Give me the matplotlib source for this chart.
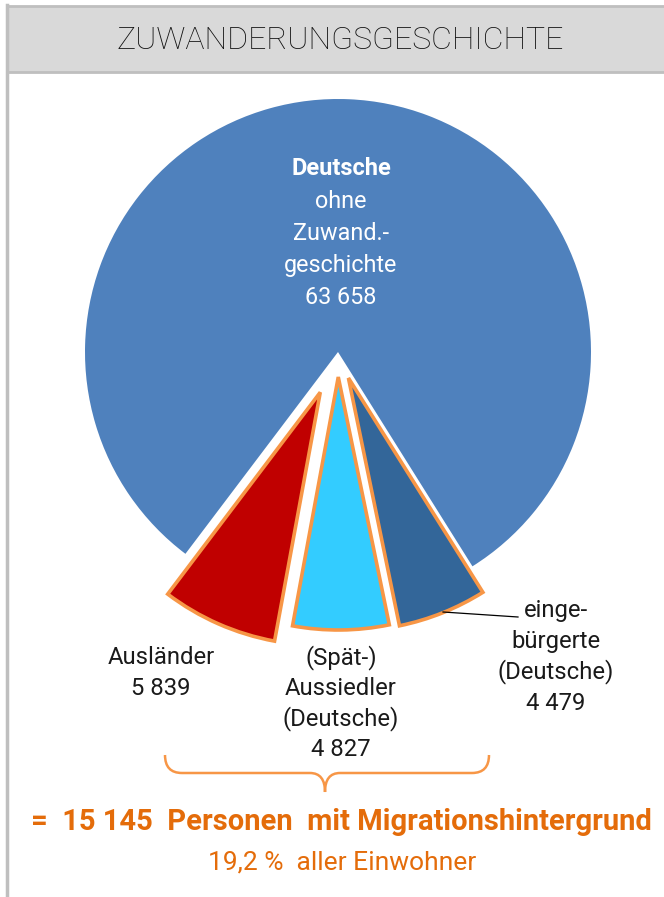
import matplotlib.pyplot as plt
from matplotlib.patches import Rectangle, PathPatch
from matplotlib.path import Path

# Daten
kategorien = ["Deutsche ohne Zuwand.-geschichte", "Ausländer", "(Spät-)Aussiedler", "eingebürgerte"]
werte = [63658, 5839, 4827, 4479]
farben = ["#4F81BD", "#C00000", "#33CCFF", "#336699"]
migration_gesamt = 15145
anteil = "19,2"

W, H = 664, 897
plt.rcParams['font.family'] = ['Roboto', 'DejaVu Sans']

fig = plt.figure(figsize=(W / 100, H / 100), dpi=100)
ax = fig.add_axes([0, 0, 1, 1])


def Y(y):
    # Bildkoordinate (von oben) -> Achse (von unten)
    return H - y


def fmt(v):
    return f"{v:,}".replace(",", " ")


orange = "#E46C0A"
orange_hell = "#F79646"

# Kopfzeile und Rahmen
ax.add_patch(Rectangle((7, Y(72)), W, 66, facecolor="#D9D9D9", edgecolor="#BFBFBF", lw=2, zorder=1))
ax.plot([7, 7], [0, Y(5)], color="#BFBFBF", lw=2.5, zorder=2)
ax.text(340, Y(40), "ZUWANDERUNGSGESCHICHTE", ha="center", va="center",
        fontsize=23, color="#111111", fontweight="light")

# Kreisdiagramm
wedges, _ = ax.pie(werte, colors=farben, startangle=302.1, counterclock=True,
                   explode=[0, 44, 25, 28], radius=253, center=(338, Y(352)),
                   frame=True)
for w in wedges[1:]:
    w.set_edgecolor(orange_hell)
    w.set_linewidth(2.6)
    w.set_joinstyle("miter")
wedges[0].set_edgecolor("none")

# Beschriftungen im Kreis
ax.text(341, Y(168), "Deutsche", ha="center", va="center", color="white",
        fontsize=17, fontweight="bold")
for i, t in enumerate(["ohne", "Zuwand.-", "geschichte", fmt(werte[0])]):
    ax.text(341, Y(201 + 32 * i), t, ha="center", va="center", color="white", fontsize=16.8)

lbl_kw = dict(ha="center", va="center", color="#1a1a1a", fontsize=17.2)
for i, t in enumerate(["Ausländer", fmt(werte[1])]):
    ax.text(161, Y(657 + 31 * i), t, **lbl_kw)
for i, t in enumerate(["(Spät-)", "Aussiedler", "(Deutsche)", fmt(werte[2])]):
    ax.text(341, Y(658 + 30.5 * i), t, **lbl_kw)
for i, t in enumerate(["einge-", "bürgerte", "(Deutsche)", fmt(werte[3])]):
    ax.text(556, Y(610 + 31 * i), t, **lbl_kw)
ax.plot([443, 518], [Y(612), Y(617)], color="black", lw=0.9)

# geschweifte Klammer
verts = [(165, 755), (165, 773), (182, 773),
         (310, 773), (325, 773), (325, 792),
         (325, 773), (340, 773), (472, 773),
         (489, 773), (489, 755)]
codes = [Path.MOVETO, Path.CURVE3, Path.CURVE3,
         Path.LINETO, Path.CURVE3, Path.CURVE3,
         Path.CURVE3, Path.CURVE3, Path.LINETO,
         Path.CURVE3, Path.CURVE3]
ax.add_patch(PathPatch(Path([(x, Y(y)) for x, y in verts], codes),
                       facecolor="none", edgecolor=orange_hell, lw=1.8))

ax.text(341, Y(822), f"=  {fmt(migration_gesamt)}  Personen  mit Migrationshintergrund",
        ha="center", va="center", color=orange, fontsize=21, fontweight="bold")
ax.text(342, Y(862), f"{anteil} %  aller Einwohner", ha="center", va="center",
        color=orange, fontsize=19)

ax.set_xlim(0, W)
ax.set_ylim(0, H)
ax.set_aspect("auto")
ax.axis("off")

fig.savefig("out.png", dpi=100)
